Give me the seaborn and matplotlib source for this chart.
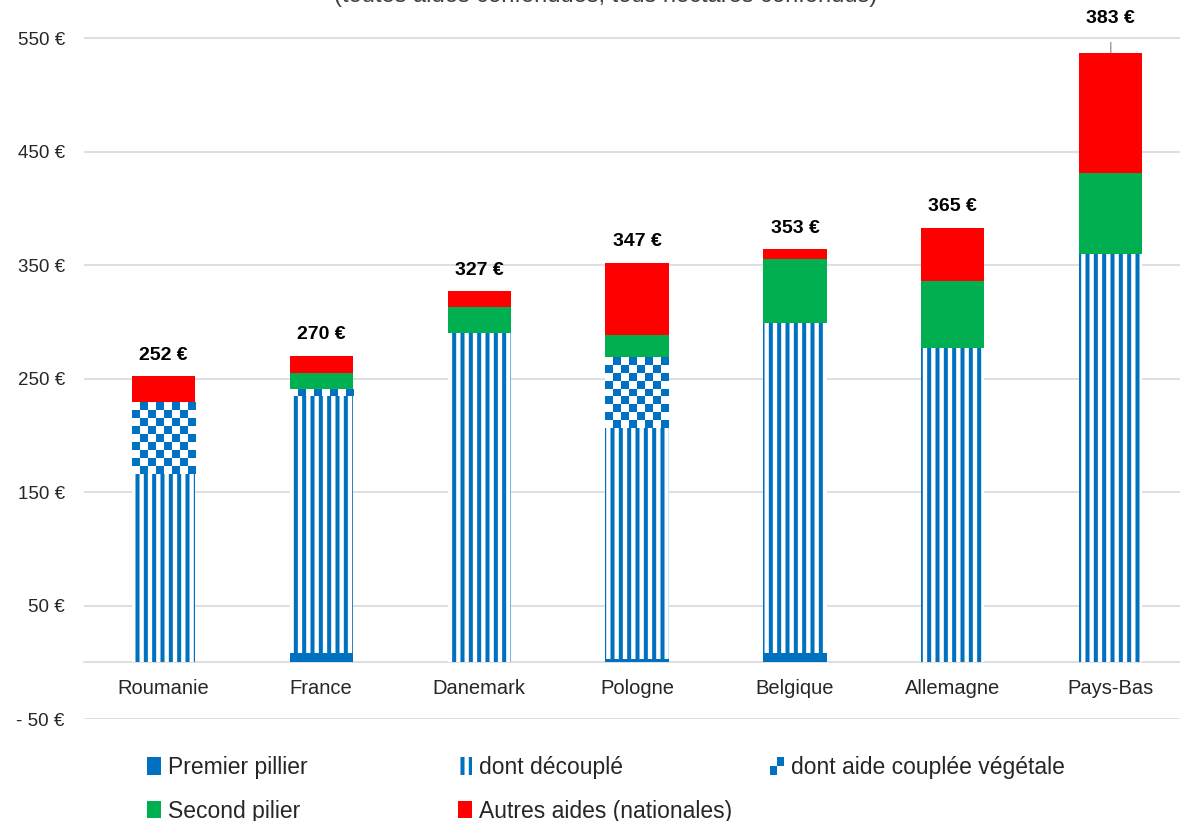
import numpy as np
import pandas as pd
import matplotlib
matplotlib.use("Agg")
import matplotlib.pyplot as plt
from matplotlib.patches import Patch, Rectangle
from matplotlib.colors import ListedColormap
from matplotlib.legend_handler import HandlerBase
import seaborn as sns

# ── données ───────────────────────────────────────────────────────────────────
pays = ["Roumanie", "France", "Danemark", "Pologne", "Belgique", "Allemagne", "Pays-Bas"]
premier_pilier = [0, 8, 0, 3, 8, 0, 0]          # partie pleine
decouple = [166, 227, 290, 203, 291, 277, 360]
couplee_vegetale = [63, 6, 0, 62, 0, 0, 0]
second_pilier = [0, 14, 23, 20, 56, 59, 71]
autres_aides = [23, 15, 14, 64, 9, 47, 106]
etiquettes = [252, 270, 327, 347, 353, 365, 383]

yticks = [-50, 50, 150, 250, 350, 450, 550]

BLEU = "#0070C0"
VERT = "#00B050"
ROUGE = "#FF0000"
GRILLE = "#D9D9D9"

sns.set_theme(style="white")
plt.rcParams["font.family"] = ["Liberation Sans", "DejaVu Sans"]
plt.rcParams["hatch.linewidth"] = 2.9


class HandlerDamier(HandlerBase):
    # petit damier 2x2 pour la légende
    def create_artists(self, legend, orig_handle, xdescent, ydescent, width, height, fontsize, trans):
        w, h = width / 2, height / 2
        return [
            Rectangle((-xdescent + w, -ydescent + h), w, h, facecolor=BLEU, edgecolor="none", transform=trans),
            Rectangle((-xdescent, -ydescent), w, h, facecolor=BLEU, edgecolor="none", transform=trans),
        ]


df = pd.DataFrame({
    "pays": pays,
    "premier": premier_pilier,
    "decouple": decouple,
    "couplee": couplee_vegetale,
    "second": second_pilier,
    "autres": autres_aides,
})
df["c_premier"] = df["premier"]
df["c_decouple"] = df["c_premier"] + df["decouple"]
df["c_couplee"] = df["c_decouple"] + df["couplee"]
df["c_second"] = df["c_couplee"] + df["second"]
df["c_total"] = df["c_second"] + df["autres"]

fig = plt.figure(figsize=(11.8, 8.21), dpi=100)
ax = fig.add_axes([84.3 / 1180, 102 / 821, 1105.5 / 1180, 719 / 821])

W = 0.4
common = dict(data=df, x="pays", order=pays, width=W, ax=ax, linewidth=0, saturation=1)

# barres cumulées superposées (du haut vers le bas)
sns.barplot(y="c_total", color=ROUGE, zorder=2, **common)
sns.barplot(y="c_second", color=VERT, zorder=3, **common)
sns.barplot(y="c_couplee", color="white", zorder=4, **common)

# damier pour l'aide couplée végétale
damier = ListedColormap(["white", BLEU])
px_par_unite = 719 / 633.5
for i, row in df.iterrows():
    if row["couplee"] <= 0:
        continue
    bas, haut = row["c_decouple"], row["c_couplee"]
    n_lignes = max(1, int(round((haut - bas) * px_par_unite / 8)))
    motif = np.indices((n_lignes, 8)).sum(axis=0) % 2
    ax.imshow(motif, cmap=damier, extent=[i - W / 2, i + W / 2, bas, haut],
              aspect="auto", interpolation="nearest", zorder=5)

sns.barplot(y="c_decouple", color="white", zorder=6, hatch="||", edgecolor=BLEU, **common)
sns.barplot(y="c_premier", color=BLEU, zorder=7, **common)

# étiquettes
for i, row in df.iterrows():
    if pays[i] == "Pays-Bas":
        ax.annotate(f"{etiquettes[i]} €", xy=(i, row["c_total"]), xytext=(0, 25),
                    textcoords="offset points", ha="center", va="center",
                    fontsize=14, fontweight="bold", color="black",
                    arrowprops=dict(arrowstyle="-", color="#808080", lw=0.8,
                                    shrinkA=9, shrinkB=0))
    else:
        ax.annotate(f"{etiquettes[i]} €", xy=(i, row["c_total"]), xytext=(0, 15),
                    textcoords="offset points", ha="center", va="center",
                    fontsize=14, fontweight="bold", color="black")

ax.set_xlim(-0.5, 6.5)
ax.set_ylim(-50, 583.5)
ax.set_yticks(yticks)
ax.set_yticklabels([f"{v} €" if v >= 0 else f"- {abs(v)} €" for v in yticks])
ax.tick_params(axis="y", length=0, pad=14, labelsize=13.5, labelcolor="#262626")
ax.tick_params(axis="x", length=0, pad=12, labelsize=14.5, labelcolor="#262626")
ax.set_xlabel("")
ax.set_ylabel("")
for y in yticks:
    ax.axhline(y, color=GRILLE, lw=1.2, zorder=0)
for s in ax.spines.values():
    s.set_visible(False)
# axe des catégories sur la ligne zéro
ax.spines["bottom"].set_position(("data", 0))
ax.spines["bottom"].set_visible(True)
ax.spines["bottom"].set_color(GRILLE)
ax.spines["bottom"].set_linewidth(1.2)
ax.spines["bottom"].set_zorder(1)

# sous-titre coupé en haut
fig.text(0.513, 1.0 - 2 / 821, "(toutes aides confondues, tous hectares confondus)",
         ha="center", va="baseline", fontsize=17, color="#404040")

# légende en trois colonnes
h_premier = Patch(facecolor=BLEU, edgecolor="none", label="Premier pillier")
h_second = Patch(facecolor=VERT, edgecolor="none", label="Second pilier")
h_decouple = Patch(facecolor="white", edgecolor=BLEU, hatch="||", linewidth=0, label="dont découplé")
h_autres = Patch(facecolor=ROUGE, edgecolor="none", label="Autres aides (nationales)")
h_couplee = Patch(facecolor="white", edgecolor="none", label="dont aide couplée végétale")

colonnes = [([h_premier, h_second], 147), ([h_decouple, h_autres], 458), ([h_couplee], 770)]
for handles, x0 in colonnes:
    fig.legend(handles=handles, loc="upper left", bbox_to_anchor=(x0 / 1180, 1 - 756 / 821),
               frameon=False, fontsize=16.5, handlelength=0.6, handleheight=0.8,
               handletextpad=0.3, labelspacing=0.9, borderaxespad=0, borderpad=0,
               handler_map={h_couplee: HandlerDamier()})

fig.savefig("out.png", dpi=100)
